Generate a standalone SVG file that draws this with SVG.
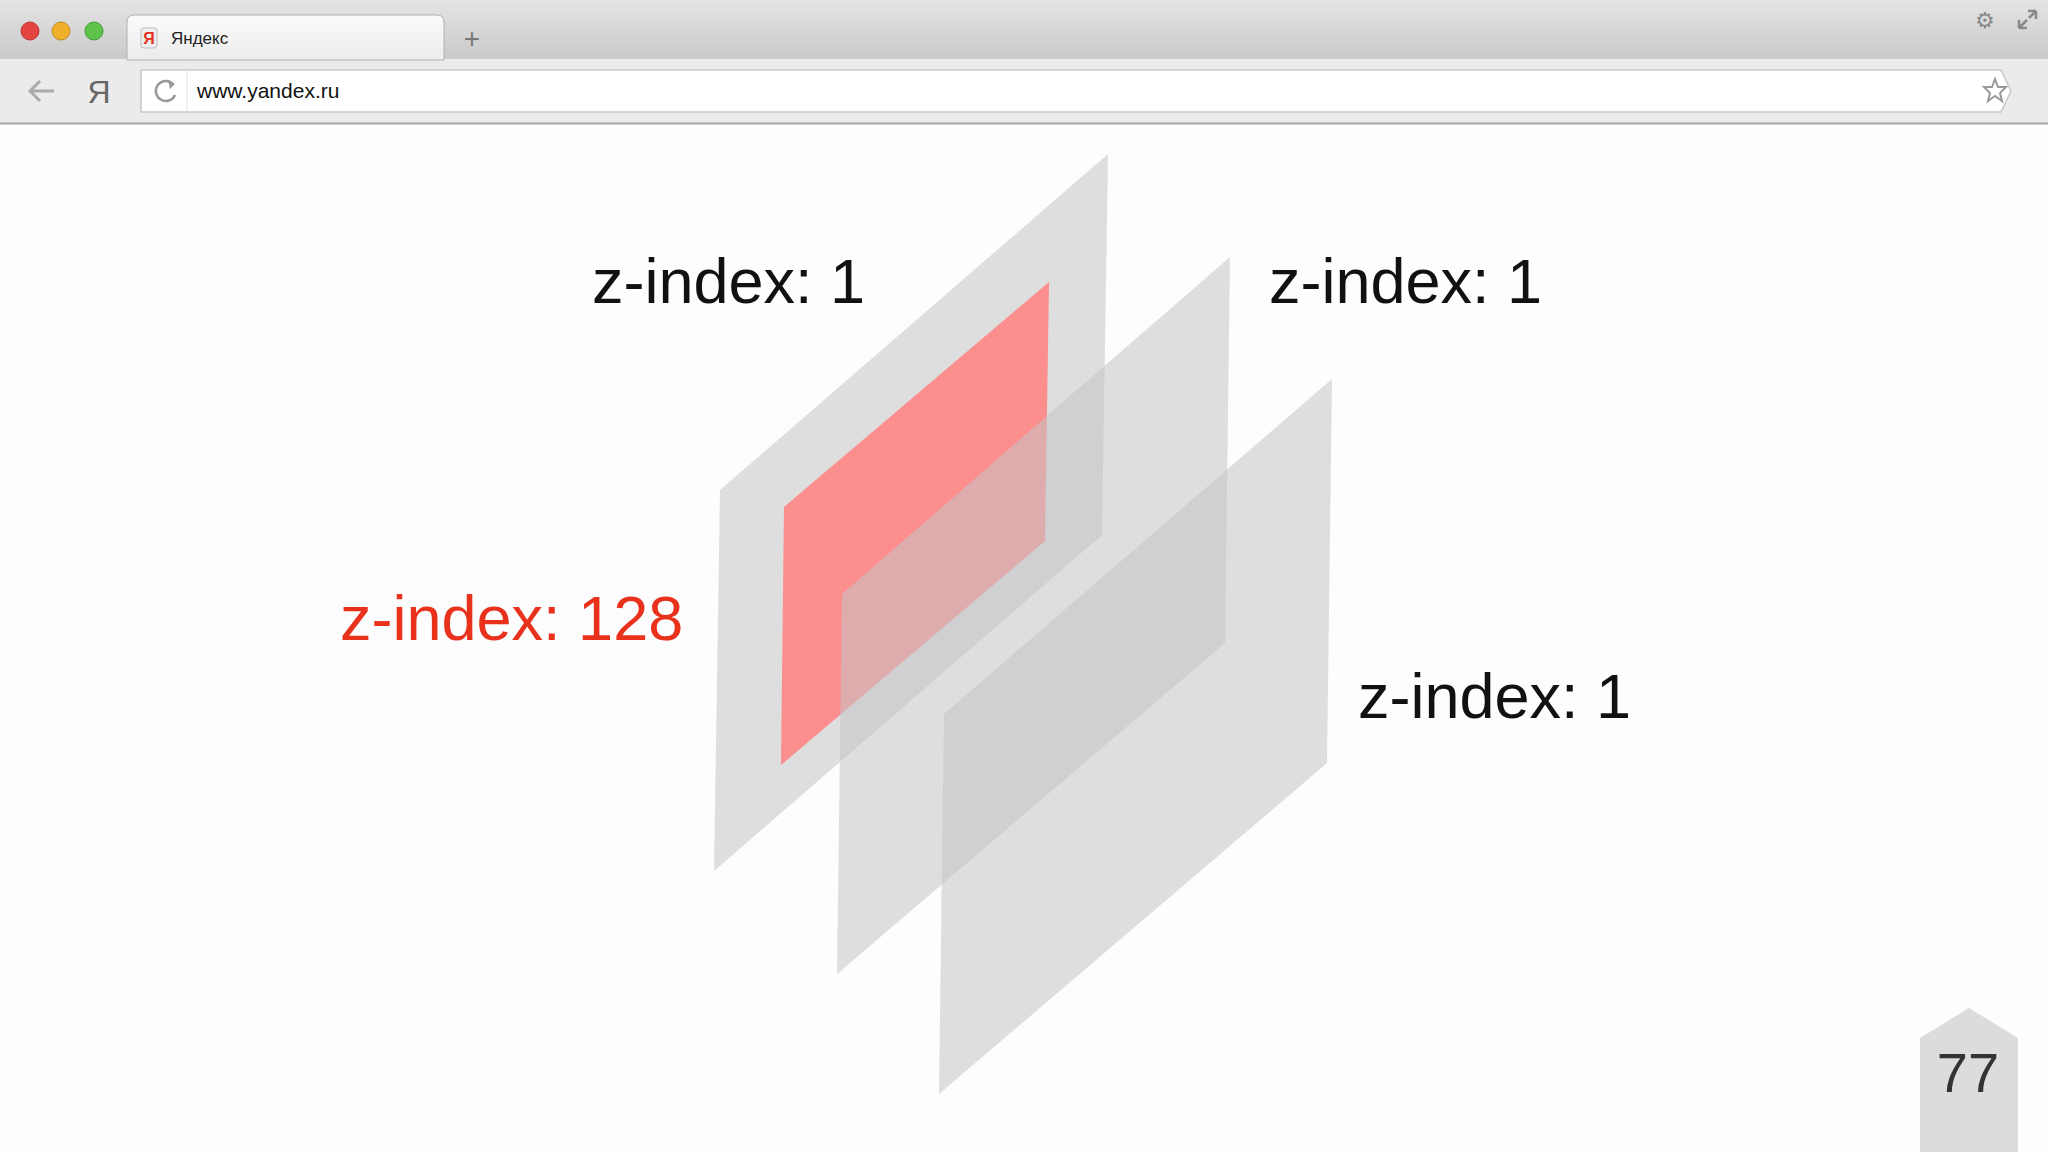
<svg xmlns="http://www.w3.org/2000/svg" width="2048" height="1152" viewBox="0 0 2048 1152">
<defs>
<linearGradient id="tb" x1="0" y1="0" x2="0" y2="1"><stop offset="0" stop-color="#e4e4e4"/><stop offset="1" stop-color="#c9c9c9"/></linearGradient>
<linearGradient id="tab" x1="0" y1="0" x2="0" y2="1"><stop offset="0" stop-color="#fafafa"/><stop offset="1" stop-color="#ececec"/></linearGradient>
<style>
.pl{fill:#c4c4c6;fill-opacity:0.55}
.lbl{font-family:"Liberation Sans",Arial,sans-serif;font-size:63px;fill:#111}
.ui{font-family:"Liberation Sans",Arial,sans-serif}
</style>
</defs>
<rect width="2048" height="1152" fill="#fdfdfd"/>
<g id="browser">
<rect width="2048" height="60" fill="url(#tb)"/>
<rect y="59" width="2048" height="65" fill="#ebebeb"/>
<line x1="0" y1="123.5" x2="2048" y2="123.5" stroke="#a9a9a9" stroke-width="2"/>
<circle cx="30" cy="31" r="9" fill="#e5453f" stroke="#b33" stroke-width="1"/>
<circle cx="61" cy="31" r="9" fill="#f0b02c" stroke="#c08a20" stroke-width="1"/>
<circle cx="94" cy="31" r="9" fill="#5fc24b" stroke="#3e9a33" stroke-width="1"/>
<path d="M127,60 L127,22 Q127,15 134,15 L437,15 Q444,15 444,22 L444,60 Z" fill="url(#tab)" stroke="#b0b0b0"/>
<rect x="141" y="28" width="16" height="20" rx="3" fill="#eee" stroke="#bbb"/>
<text x="149" y="44" class="ui" font-size="16" font-weight="bold" fill="#e03020" text-anchor="middle">Я</text>
<text x="171" y="44" class="ui" font-size="17" fill="#222">Яндекс</text>
<text x="472" y="48" class="ui" font-size="28" fill="#777" text-anchor="middle">+</text>
<text x="1985" y="28" class="ui" font-size="22" fill="#888" text-anchor="middle">⚙</text>
<path d="M2019,28 L2019,20 M2019,28 L2027,28 M2019,28 L2027,20 M2036,11 L2036,19 M2036,11 L2028,11 M2036,11 L2029,18" stroke="#888" stroke-width="2.5" fill="none"/>
<path d="M141,70 L2001,70 L2011,91 L2001,112 L141,112 Z" fill="#fff" stroke="#c8c8c8" stroke-width="1.5"/>
<line x1="187" y1="70" x2="187" y2="112" stroke="#e2e2e2"/>
<path d="M54,91 L30,91 M40,81 L30,91 L40,101" stroke="#aaa" stroke-width="3" fill="none"/>
<text x="99" y="103" class="ui" font-size="32" fill="#666" text-anchor="middle">Я</text>
<path d="M173,84 A10,10 0 1 0 175,95" stroke="#999" stroke-width="2.5" fill="none"/>
<path d="M168,80 L175,84 L170,89" fill="#999"/>
<text x="197" y="98" class="ui" font-size="21" fill="#111">www.yandex.ru</text>
<polygon points="1995,79 1998,87 2006,87 2000,93 2002,101 1995,96 1988,101 1990,93 1984,87 1992,87" fill="none" stroke="#999" stroke-width="2"/>
</g>
<g id="plane1"><polygon class="pl" points="720,490 1108,154 1102,535 714,871"/></g>
<g id="red"><polygon points="784,507 1049,282 1045,541 781,765" fill="#ff8585" fill-opacity="0.9"/></g>
<g id="plane2"><polygon class="pl" points="842,594 1230,257 1225,643 837,974"/></g>
<g id="plane3"><polygon class="pl" points="944,714 1332,379 1327,763 939,1094"/></g>
<g id="labels">
<text x="592" y="303" class="lbl">z-index: 1</text>
<text x="1269" y="303" class="lbl">z-index: 1</text>
<text x="1358" y="718" class="lbl">z-index: 1</text>
<text x="340" y="640" class="lbl" fill="#e8321c" style="fill:#e8321c">z-index: 128</text>
</g>
<g id="page">
<polygon points="1920,1038 1969,1008 2018,1038 2018,1152 1920,1152" fill="#dcdcdc"/>
<text x="1968" y="1092" class="ui" font-size="56" fill="#333" text-anchor="middle">77</text>
</g>
<g id="connectors"/>
</svg>
